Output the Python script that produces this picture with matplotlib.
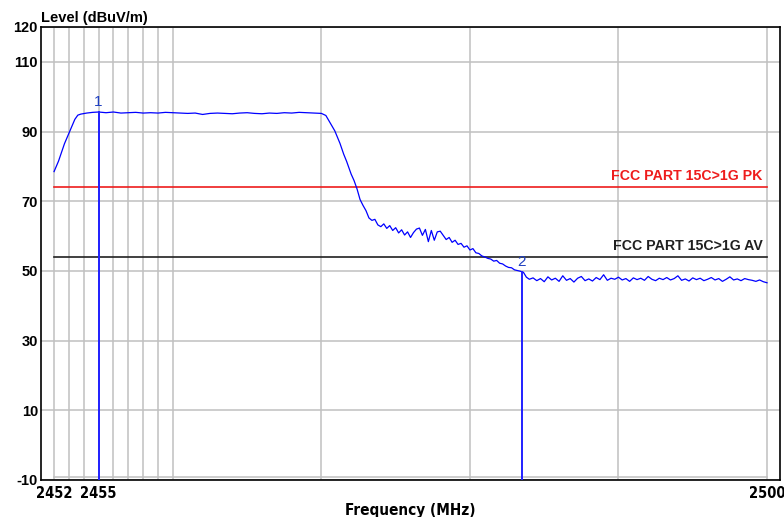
import os
import numpy as np
import matplotlib
matplotlib.use("Agg")
import matplotlib.pyplot as plt
from matplotlib import font_manager

# trace (MHz, dBuV/m)
rise_freq = [2452.0, 2452.3, 2452.5, 2452.7, 2453.0, 2453.2, 2453.4, 2453.6, 2453.8,
             2454.2, 2454.6, 2455.0, 2455.5, 2456.0, 2456.5, 2457.0, 2457.5, 2458.0,
             2458.5, 2459.0, 2459.5, 2460.0, 2460.5, 2461.0, 2461.5, 2462.0, 2462.5,
             2463.0, 2463.5, 2464.0, 2464.5, 2465.0, 2465.5, 2466.0, 2466.5, 2467.0,
             2467.5, 2468.0, 2468.5, 2469.0, 2469.5, 2470.0]
rise_level = [78.5, 81.5, 84.0, 86.5, 89.5, 91.5, 93.5, 94.7, 95.0,
              95.3, 95.5, 95.6, 95.4, 95.6, 95.3, 95.4, 95.5, 95.3,
              95.4, 95.3, 95.5, 95.4, 95.3, 95.2, 95.3, 94.9, 95.2,
              95.3, 95.2, 95.1, 95.3, 95.4, 95.2, 95.1, 95.3, 95.2,
              95.4, 95.3, 95.5, 95.4, 95.3, 95.2]

drop_freq = [2470.3, 2470.6, 2470.9, 2471.25, 2471.5, 2471.7, 2472.0, 2472.2, 2472.4,
             2472.6, 2472.8, 2473.0, 2473.2, 2473.4, 2473.6, 2473.8, 2474.0]
drop_level = [94.6, 92.4, 90.2, 86.6, 83.5, 81.4, 77.8, 75.9, 73.5,
              70.5, 68.8, 67.3, 65.2, 64.5, 64.8, 63.2, 62.7]

# 2474.2 .. 2483.8 MHz, 0.2 MHz steps
skirt_level = [63.5, 62.2, 63.0, 61.6, 62.4, 60.9, 61.8, 60.3, 61.2, 59.6,
               61.0, 62.0, 62.3, 60.2, 61.9, 58.4, 61.6, 58.8, 61.2, 61.4,
               60.2, 59.0, 59.6, 58.2, 58.8, 57.6, 57.9, 56.8, 57.2, 56.0,
               56.4, 55.2, 55.0, 54.3, 54.0, 53.6, 53.4, 52.8, 53.0, 52.2,
               52.0, 51.4, 51.0, 50.9, 50.3, 50.1, 49.9, 49.6, 48.2]

# 2484 .. 2500 MHz, 0.25 MHz steps
floor_level = [47.6, 48.0, 47.2, 47.8, 46.9, 48.3, 47.4, 47.9, 47.0, 48.6,
               47.3, 47.8, 46.8, 47.9, 48.4, 47.2, 47.7, 47.1, 48.1, 47.5,
               48.9, 47.3, 47.9, 47.6, 48.2, 47.4, 47.8, 47.0, 48.0, 47.5,
               47.9, 47.3, 48.4, 47.6, 47.2, 47.9, 47.5, 48.1, 47.4, 47.8,
               48.6, 47.3, 47.7, 47.1, 48.0, 47.5, 47.9, 47.2, 47.6, 48.1,
               47.4, 47.8, 47.0, 47.6, 48.3, 47.4, 47.7, 47.2, 47.8, 47.5,
               47.3, 47.0, 47.4, 46.9, 46.6]

skirt_freq = np.linspace(2474.2, 2483.8, len(skirt_level))
floor_freq = np.linspace(2484.0, 2500.0, len(floor_level))

freq = np.concatenate([rise_freq, drop_freq, skirt_freq, floor_freq])
level = np.concatenate([rise_level, drop_level, skirt_level, floor_level])

limit_level = [74, 54]
limit_name = ["FCC PART 15C>1G PK", "FCC PART 15C>1G AV"]
limit_color = ["#ee1c1c", "#202020"]

marker_freq = [2455.0, 2483.5]
marker_level = [95.6, 49.8]
marker_name = ["1", "2"]

x_grid = [2452, 2453, 2454, 2455, 2456, 2457, 2458, 2459, 2460, 2470, 2480, 2490, 2500]
x_labels = ["2452", "", "", "2455", "", "", "", "", "", "", "", "", "2500"]
y_ticks = [120, 110, 90, 70, 50, 30, 10, -10]

# narrow upright bold font for the x axis, if one is around
narrow = None
all_fonts = font_manager.findSystemFonts()
for want in ["LiberationSansNarrow-Bold.ttf", "DejaVuSansCondensed-Bold.ttf"]:
    for fp in all_fonts:
        if os.path.basename(fp) == want:
            narrow = font_manager.FontProperties(fname=fp)
            break
    if narrow is not None:
        break
if narrow is None:
    narrow = font_manager.FontProperties(family="DejaVu Sans", weight="bold")

fig = plt.figure(figsize=(7.84, 5.17), dpi=100)
ax = fig.add_axes([0.0519, 0.0716, 0.943, 0.8762])

ax.set_xlim(2451.1, 2500.875)
ax.set_ylim(-10, 120)

ax.set_xticks(x_grid)
ax.set_xticklabels(x_labels)
for t in ax.get_xticklabels():
    t.set_fontproperties(narrow)
    t.set_fontsize(10.5)
ax.set_yticks(y_ticks)
ax.set_yticklabels([str(v) for v in y_ticks], fontsize=10.5, fontweight="bold",
                   family="Liberation Sans")
ax.tick_params(axis="both", length=0)
ax.tick_params(axis="x", pad=4)
ax.tick_params(axis="y", pad=2)
ax.grid(True, color="#c0c0c0", linewidth=1.1)
ax.set_axisbelow(True)
for s in ax.spines.values():
    s.set_color("black")
    s.set_linewidth(1.2)

# inner gray border at the bottom
ax.plot([2452, 2500], [-9.1, -9.1], color="#c0c0c0", linewidth=1.1, zorder=1)

for lv, name, c in zip(limit_level, limit_name, limit_color):
    ax.plot([2452, 2500], [lv, lv], color=c, linewidth=1.2, zorder=2)
    ax.text(2499.7, lv + 1.2, name, color=c, fontsize=10.2, fontweight="bold",
            family="Liberation Sans", ha="right", va="bottom")

ax.plot(freq, level, color="#0000ff", linewidth=0.9, zorder=3)

for f, lv, name in zip(marker_freq, marker_level, marker_name):
    ax.plot([f, f], [-10, lv], color="#2020ff", linewidth=1.4, zorder=4)
    ax.text(f, lv + 0.8, name, color="#2040c0", fontsize=11,
            family="Liberation Sans", ha="center", va="bottom")

ax.text(0.0, 1.004, "Level (dBuV/m)", transform=ax.transAxes, fontsize=10.5,
        fontweight="bold", family="Liberation Sans", ha="left", va="bottom")
ax.set_xlabel("Frequency (MHz)", fontproperties=narrow, fontsize=11, labelpad=2)

fig.savefig("out.png", dpi=100)
